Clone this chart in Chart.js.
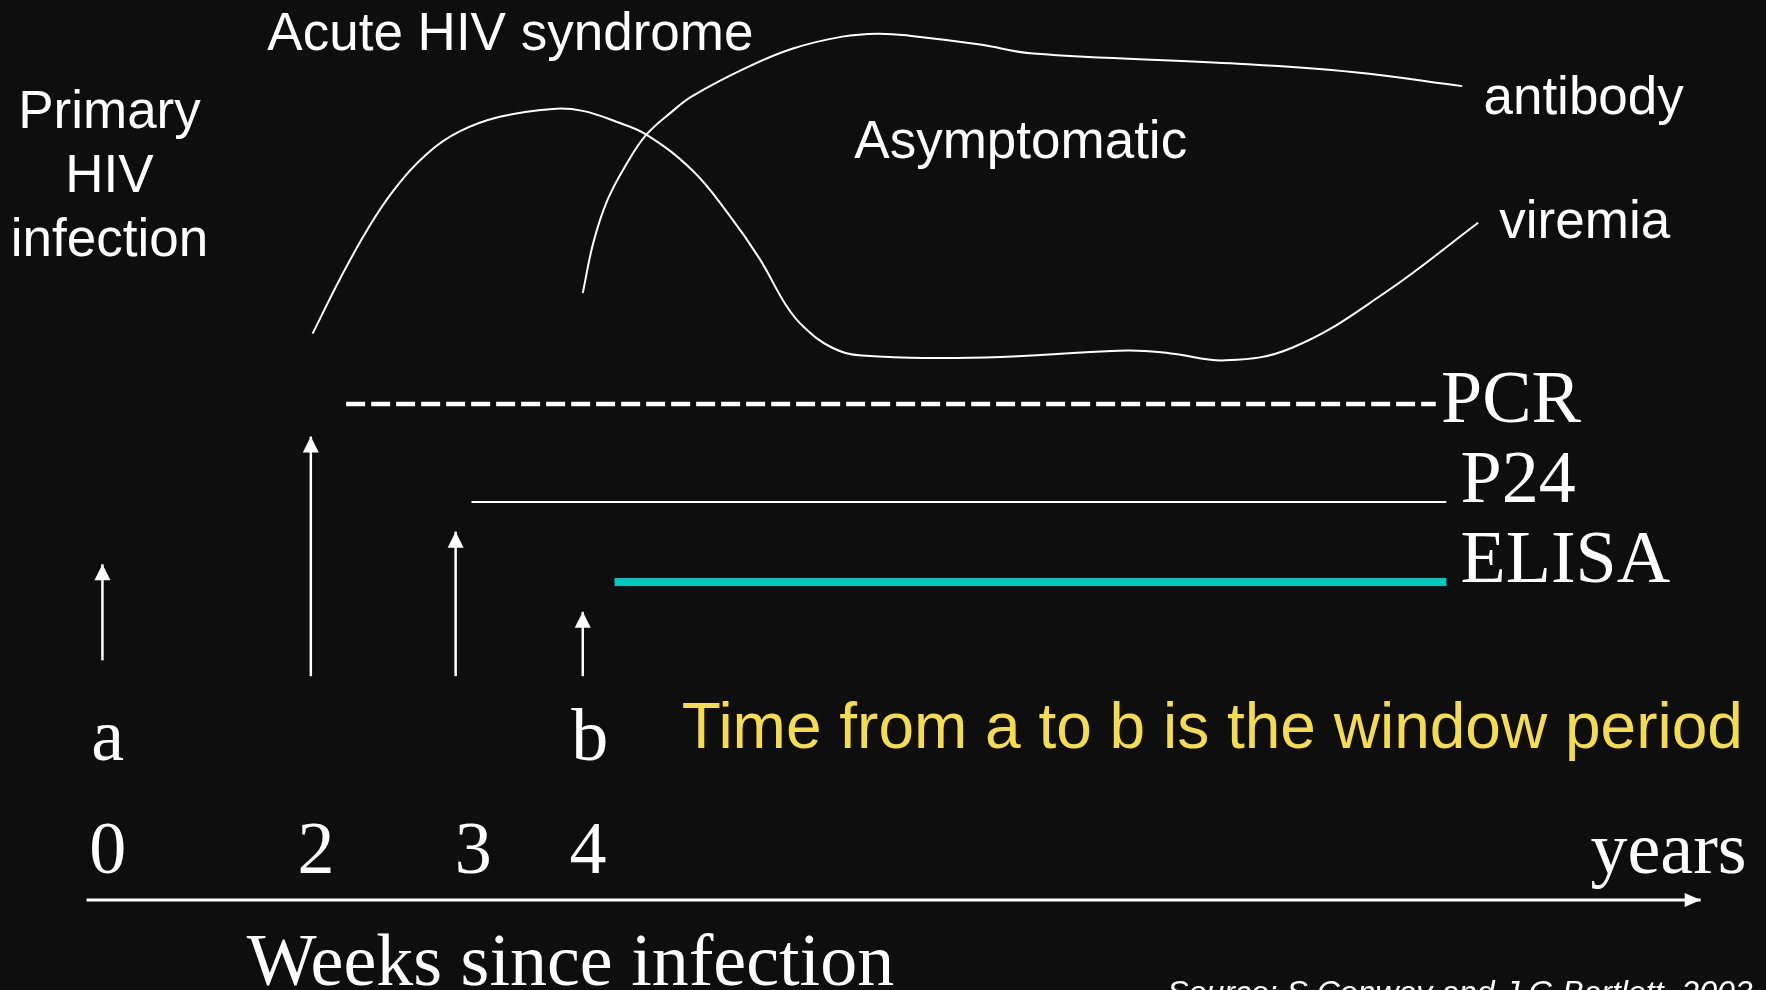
<!DOCTYPE html>
<html>
<head>
<meta charset="utf-8">
<script src="https://cdn.jsdelivr.net/npm/chart.js@4.4.1/dist/chart.umd.min.js"></script>
<style>
	html, body { margin: 0; padding: 0; background: #0e0e0e; overflow: hidden; }
	canvas { display: block; }
</style>
</head>
<body>
<canvas id="hiv_window" width="1766" height="990"></canvas>
<script>
// schematic units: x 0..100 left to right, y 0..100 bottom to top
const viremiaX = [17.7, 19.3, 20.8, 22.3, 24.2, 26.0, 28.3, 31.3, 33.0, 34.9, 36.6, 39.2, 41.2, 43.0, 44.5, 45.5, 47.1, 48.8, 55.8, 63.8, 66.3, 69.4, 73.2, 78.4, 83.7];
const viremiaY = [66.3, 72.0, 76.8, 80.8, 84.5, 86.7, 88.2, 89.0, 88.8, 87.7, 86.4, 82.8, 78.5, 73.9, 69.2, 67.0, 64.9, 64.1, 63.9, 64.6, 64.3, 63.6, 64.9, 70.4, 77.5];

const antibodyX = [33.0, 33.6, 34.4, 35.5, 36.6, 38.1, 39.2, 42.3, 44.9, 47.7, 49.7, 51.5, 55.5, 58.5, 69.7, 76.7, 82.8];
const antibodyY = [70.4, 75.5, 79.8, 83.5, 86.4, 88.8, 90.3, 93.2, 95.1, 96.3, 96.6, 96.4, 95.5, 94.6, 93.6, 92.7, 91.3];

// detection windows of each test (start, end, level)
const tests = ['PCR', 'P24', 'ELISA'];
const testStart = [19.6, 26.7, 34.8];
const testEnd = [81.3, 81.9, 81.9];
const testLevel = [59.2, 49.3, 41.2];

// event markers
const markerX = [5.8, 17.6, 25.8, 33.0];
const markerBase = [33.3, 31.7, 31.7, 31.7];
const markerTip = [43.0, 55.9, 46.3, 38.2];

// time axis
const timeAxisX = [4.9, 96.3];
const timeAxisY = 9.1;
const tickLabels = ['0', '2', '3', '4'];
const tickPos = [6.1, 17.9, 26.8, 33.3];

const toPoints = (xs, ys) => xs.map((v, i) => ({x: v, y: ys[i]}));

const SANS = '"Liberation Sans", Arial, sans-serif';
const SERIF = '"Liberation Serif", "Times New Roman", serif';

const notes = [
	{text: 'Acute HIV syndrome', x: 28.9, y: 94.9, font: '53px ' + SANS},
	{text: 'Primary', x: 6.2, y: 87.1, font: '53px ' + SANS},
	{text: 'HIV', x: 6.2, y: 80.6, font: '53px ' + SANS},
	{text: 'infection', x: 6.2, y: 74.1, font: '53px ' + SANS},
	{text: 'Asymptomatic', x: 57.8, y: 84.0, font: '53px ' + SANS},
	{text: 'antibody', x: 84.0, y: 88.5, font: '53px ' + SANS, align: 'left'},
	{text: 'viremia', x: 84.9, y: 76.0, font: '53px ' + SANS, align: 'left'},
	{text: 'PCR', x: 81.6, y: 57.4, font: '74px ' + SERIF, align: 'left'},
	{text: 'P24', x: 82.7, y: 49.3, font: '74px ' + SERIF, align: 'left'},
	{text: 'ELISA', x: 82.7, y: 41.2, font: '74px ' + SERIF, align: 'left'},
	{text: 'a', x: 6.1, y: 23.2, font: '74px ' + SERIF},
	{text: 'b', x: 33.4, y: 23.2, font: '74px ' + SERIF},
	{text: 'Time from a to b is the window period', x: 38.6, y: 24.4, font: '64px ' + SANS, align: 'left', color: '#f4dc4c'},
	{text: 'years', x: 98.9, y: 11.8, font: '74px ' + SERIF, align: 'right'},
	{text: 'Weeks since infection', x: 32.3, y: 0.5, font: '74px ' + SERIF},
	{text: 'Source: S Conway and J G Bartlett, 2003', x: 66.1, y: -1.3, font: 'italic 32px ' + SANS, align: 'left'},
];

const datasets = [
	{label: 'viremia', data: toPoints(viremiaX, viremiaY), borderColor: '#ffffff', borderWidth: 2, tension: 0.4},
	{label: 'antibody', data: toPoints(antibodyX, antibodyY), borderColor: '#ffffff', borderWidth: 2, tension: 0.4},
	{label: 'PCR', data: [{x: testStart[0], y: testLevel[0]}, {x: testEnd[0], y: testLevel[0]}], borderColor: '#ffffff', borderWidth: 4.5, borderDash: [19, 6]},
	{label: 'P24', data: [{x: testStart[1], y: testLevel[1]}, {x: testEnd[1], y: testLevel[1]}], borderColor: '#ffffff', borderWidth: 2},
	{label: 'ELISA', data: [{x: testStart[2], y: testLevel[2]}, {x: testEnd[2], y: testLevel[2]}], borderColor: '#00c8c2', borderWidth: 8},
	{label: 'time', data: [{x: timeAxisX[0], y: timeAxisY}, {x: timeAxisX[1], y: timeAxisY}], borderColor: '#ffffff', borderWidth: 3, arrowHead: [16, 7]},
];
markerX.forEach((mx, i) => {
	datasets.push({
		label: 'marker' + i,
		data: [{x: mx, y: markerBase[i]}, {x: mx, y: markerTip[i]}],
		borderColor: '#ffffff',
		borderWidth: 2.5,
		arrowHead: [16, 8],
	});
});

const arrowHeads = {
	id: 'arrowHeads',
	afterDatasetsDraw(chart) {
		const ctx = chart.ctx;
		chart.data.datasets.forEach((ds, i) => {
			if (!ds.arrowHead) return;
			const pts = chart.getDatasetMeta(i).data;
			const tip = pts[pts.length - 1];
			const prev = pts[pts.length - 2];
			const ang = Math.atan2(tip.y - prev.y, tip.x - prev.x);
			const [len, half] = ds.arrowHead;
			ctx.save();
			ctx.translate(tip.x, tip.y);
			ctx.rotate(ang);
			ctx.beginPath();
			ctx.moveTo(0, 0);
			ctx.lineTo(-len, -half);
			ctx.lineTo(-len, half);
			ctx.closePath();
			ctx.fillStyle = ds.borderColor;
			ctx.fill();
			ctx.restore();
		});
	}
};

const slideText = {
	id: 'slideText',
	afterDraw(chart) {
		const {ctx, scales: {x, y}} = chart;
		ctx.save();
		ctx.textBaseline = 'alphabetic';
		notes.forEach(n => {
			ctx.font = n.font;
			ctx.fillStyle = n.color || '#ffffff';
			ctx.textAlign = n.align || 'center';
			ctx.fillText(n.text, x.getPixelForValue(n.x), y.getPixelForValue(n.y));
		});
		// week ticks above the time axis
		ctx.font = '74px ' + SERIF;
		ctx.fillStyle = '#ffffff';
		ctx.textAlign = 'center';
		tickLabels.forEach((t, i) => {
			ctx.fillText(t, x.getPixelForValue(tickPos[i]), y.getPixelForValue(11.8));
		});
		ctx.restore();
	}
};

const chart = new Chart(document.getElementById('hiv_window'), {
	type: 'line',
	data: {datasets},
	options: {
		responsive: false,
		animation: false,
		devicePixelRatio: 1,
		layout: {padding: 0},
		elements: {point: {radius: 0}, line: {tension: 0, fill: false}},
		scales: {
			x: {type: 'linear', min: 0, max: 100, display: false},
			y: {type: 'linear', min: 0, max: 100, display: false},
		},
		plugins: {legend: {display: false}, tooltip: {enabled: false}},
	},
	plugins: [arrowHeads, slideText],
});
</script>
</body>
</html>
